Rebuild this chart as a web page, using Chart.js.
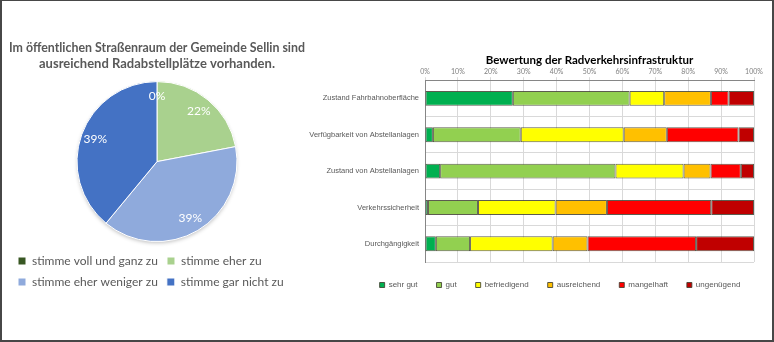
<!DOCTYPE html>
<html lang="de">
<head>
<meta charset="utf-8">
<title>Radverkehr Sellin</title>
<script src="https://cdn.jsdelivr.net/npm/chart.js@4.4.1/dist/chart.umd.min.js"></script>
<style>
    html, body { margin: 0; padding: 0; background: #fff; }
    #page { position: relative; width: 774px; height: 342px; overflow: hidden; background: #fff; }
    #frame { position: absolute; left: 0; top: 0; width: 770px; height: 339px; border-style: solid; border-color: #474747; border-width: 1px 2px 2px 2px; pointer-events: none; z-index: 2; }
    #pieBox { position: absolute; left: 9px; top: 30px; width: 296px; height: 268px; }
    #barBox { position: absolute; left: 300px; top: 40px; width: 520px; height: 259px; }
</style>
</head>
<body>
<div id="page">
    <div id="pieBox"><canvas id="pieChart"></canvas></div>
    <div id="barBox"><canvas id="barChart"></canvas></div>
    <div id="frame"></div>
</div>
<script>
// Umfrage: Radabstellplätze
const pieLabels = ['stimme voll und ganz zu', 'stimme eher zu', 'stimme eher weniger zu', 'stimme gar nicht zu'];
const pieValues = [0, 22, 39, 39];
const pieColors = ['#385723', '#A9D18E', '#8FAADC', '#4472C4'];

// Bewertung der Radverkehrsinfrastruktur (Anteile in %)
const categories = ['Zustand Fahrbahnoberfläche', 'Verfügbarkeit von Abstellanlagen', 'Zustand von Abstellanlagen', 'Verkehrssicherheit', 'Durchgängigkeit'];
const ratingLabels = ['sehr gut', 'gut', 'befriedigend', 'ausreichend', 'mangelhaft', 'ungenügend'];
const sehrGut = [26.7, 2.4, 4.6, 0.9, 3.3];
const gut = [35.5, 26.7, 53.3, 15.2, 10.4];
const befriedigend = [10.5, 31.3, 20.7, 23.6, 25.1];
const ausreichend = [14.2, 13.1, 8.2, 15.6, 10.6];
const mangelhaft = [5.4, 21.8, 9.2, 31.7, 33.0];
const ungenuegend = [7.7, 4.7, 4.0, 13.0, 17.6];
const ratingColors = ['#00B050', '#92D050', '#FFFF00', '#FFC000', '#FF0000', '#C00000'];
const xTickLabels = ['0%', '10%', '20%', '30%', '40%', '50%', '60%', '70%', '80%', '90%', '100%'];

Chart.defaults.font.family = "'Liberation Sans', Arial, sans-serif";
Chart.defaults.animation = false;

// leichter Schatten unter der Torte
const pieShadow = {
    id: 'pieShadow',
    beforeDatasetsDraw(chart) {
        const arc = chart.getDatasetMeta(0).data[0];
        if (!arc) return;
        const ctx = chart.ctx;
        ctx.save();
        ctx.shadowColor = 'rgba(0, 0, 0, 0.3)';
        ctx.shadowBlur = 4;
        ctx.shadowOffsetY = 2;
        ctx.fillStyle = '#ffffff';
        ctx.beginPath();
        ctx.arc(arc.x, arc.y, arc.outerRadius - 1, 0, Math.PI * 2);
        ctx.fill();
        ctx.restore();
    }
};

// Prozentwerte in die Tortenstücke schreiben
const pieValueLabels = {
    id: 'pieValueLabels',
    afterDatasetsDraw(chart) {
        const ctx = chart.ctx;
        const meta = chart.getDatasetMeta(0);
        ctx.save();
        ctx.fillStyle = '#ffffff';
        ctx.font = '12px Lato';
        ctx.textAlign = 'center';
        ctx.textBaseline = 'middle';
        meta.data.forEach((arc, i) => {
            const mid = (arc.startAngle + arc.endAngle) / 2;
            const r = arc.outerRadius * 0.82;
            ctx.fillText(pieValues[i] + '%', arc.x + Math.cos(mid) * r, arc.y + Math.sin(mid) * r);
        });
        ctx.restore();
    }
};

function renderPieChart() {
    const ctx = document.getElementById('pieChart').getContext('2d');
    new Chart(ctx, {
        type: 'pie',
        data: {
            labels: pieLabels,
            datasets: [{
                data: pieValues,
                backgroundColor: pieColors,
                borderColor: '#ffffff',
                borderWidth: 1,
                radius: 80
            }]
        },
        options: {
            responsive: true,
            maintainAspectRatio: false,
            plugins: {
                title: {
                    display: true,
                    text: ['Im öffentlichen Straßenraum der Gemeinde Sellin sind', 'ausreichend Radabstellplätze vorhanden.'],
                    color: '#595959',
                    font: { family: 'Lato', size: 13, weight: 'bold' },
                    padding: { top: 10, bottom: 6 }
                },
                legend: {
                    position: 'bottom',
                    align: 'start',
                    labels: {
                        boxWidth: 8,
                        boxHeight: 8,
                        padding: 9,
                        color: '#595959',
                        font: { family: 'Lato', size: 12 }
                    }
                },
                tooltip: { enabled: false }
            }
        },
        plugins: [pieShadow, pieValueLabels]
    });
}

function renderBarChart() {
    const ctx = document.getElementById('barChart').getContext('2d');
    const series = [sehrGut, gut, befriedigend, ausreichend, mangelhaft, ungenuegend];

    new Chart(ctx, {
        type: 'bar',
        data: {
            labels: categories,
            datasets: series.map((values, i) => ({
                label: ratingLabels[i],
                data: values,
                backgroundColor: ratingColors[i],
                borderColor: 'rgba(64, 64, 48, 0.85)',
                borderWidth: 1,
                borderSkipped: false,
                barPercentage: 0.41,
                categoryPercentage: 1.0
            }))
        },
        options: {
            indexAxis: 'y',
            responsive: true,
            maintainAspectRatio: false,
            scales: {
                x: {
                    position: 'top',
                    stacked: true,
                    min: 0,
                    max: 100,
                    ticks: {
                        stepSize: 10,
                        padding: 1,
                        color: '#7f7f7f',
                        font: { family: 'Lato', size: 7 },
                        callback: (value, index) => xTickLabels[index]
                    },
                    grid: { color: '#d9d9d9', tickLength: 3 },
                    border: { color: '#868686' }
                },
                y: {
                    stacked: true,
                    ticks: {
                        padding: 6,
                        color: '#595959',
                        font: { size: 7.5 }
                    },
                    grid: { color: '#d9d9d9', drawTicks: false, offset: true },
                    border: { color: '#868686' },
                    afterFit: scale => { scale.width = 125; }
                },
                // leerer Rand rechts, damit die Legende wie im Original sitzt
                yRand: {
                    axis: 'y',
                    type: 'linear',
                    position: 'right',
                    ticks: { display: false },
                    grid: { display: false, drawTicks: false },
                    border: { display: false },
                    afterFit: scale => { scale.width = 66; }
                }
            },
            plugins: {
                title: {
                    display: true,
                    text: 'Bewertung der Radverkehrsinfrastruktur',
                    color: '#000000',
                    fullSize: false,
                    font: { family: 'Lato', size: 11.5, weight: 'bold' },
                    padding: { top: 13, bottom: 0 }
                },
                legend: {
                    position: 'bottom',
                    labels: {
                        boxWidth: 5,
                        boxHeight: 5,
                        padding: 19,
                        color: '#595959',
                        font: { size: 8 }
                    }
                },
                tooltip: { enabled: false }
            }
        }
    });
}

document.addEventListener('DOMContentLoaded', function() {
    renderPieChart();
    renderBarChart();
});
</script>
</body>
</html>
